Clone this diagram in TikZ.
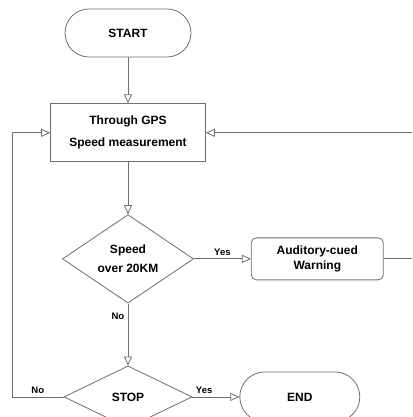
\documentclass[tikz,border=0pt]{standalone}
\usepackage{fontspec}
\setmainfont{Liberation Sans}
\usepackage{tikz}
\usetikzlibrary{positioning, arrows.meta, shapes.geometric}
\definecolor{linegray}{RGB}{110,110,110}

\begin{document}
\begin{tikzpicture}[x=1pt, y=1pt, node distance=46pt and 57pt,
  every node/.style={font=\bfseries\fontsize{12}{19}\selectfont},
  term/.style={draw=linegray, thick, rounded corners=24pt, minimum height=48pt, align=center},
  proc/.style={draw=linegray, thick, minimum width=155pt, minimum height=58pt, align=center, font=\bfseries\fontsize{12}{22}\selectfont},
  warnbox/.style={draw=linegray, thick, rounded corners=5pt, minimum width=132pt, minimum height=42pt, align=center, font=\bfseries\fontsize{12}{15}\selectfont},
  decide/.style={draw=linegray, thick, diamond, inner sep=0pt, align=center},
  lbl/.style={font=\bfseries\fontsize{9.5}{10}\selectfont, text=black},
  arr/.style={-{Triangle[open, length=9pt, width=8pt]}, thick, color=linegray}]
  \useasboundingbox (0,0) rectangle (412,-417);
  \node[term, minimum width=126pt] (start) at (128,-33) {START};
  \node[proc, below=46pt of start] (gps) {Through GPS\\Speed measurement};
  \node[decide, below=52pt of gps, minimum width=131pt, minimum height=82pt] (speed) {Speed\\over 20KM};
  \node[warnbox, right=57pt of speed] (warn) {Auditory-cued\\Warning};
  \node[decide, below=62pt of speed, minimum width=128pt, minimum height=62pt] (stop) {STOP};
  \node[term, right=47pt of stop, minimum width=120pt, minimum height=50pt, rounded corners=25pt] (end) {END};
  \coordinate (rim) at (412,0);
  \coordinate (loop) at (12,0);
  \coordinate (rimW) at (warn.east -| rim);
  \coordinate (rimG) at (gps.east -| rim);
  \draw[arr] (start) -- (gps);
  \draw[arr] (gps) -- (speed);
  \draw[arr] (speed) -- node[lbl, above]{Yes} (warn);
  \draw[arr] (speed) -- node[lbl, left, pos=0.2]{No} (stop);
  \draw[arr] (stop) -- node[lbl, above, pos=0.25]{Yes} (end);
  \draw[thick, linegray] (warn) -- (rimW);
  \draw[arr] (rimG) -- (gps);
  \draw[arr] (stop.west) -- node[lbl, above]{No} (loop |- stop.west) |- (gps.west);
\end{tikzpicture}
\end{document}
